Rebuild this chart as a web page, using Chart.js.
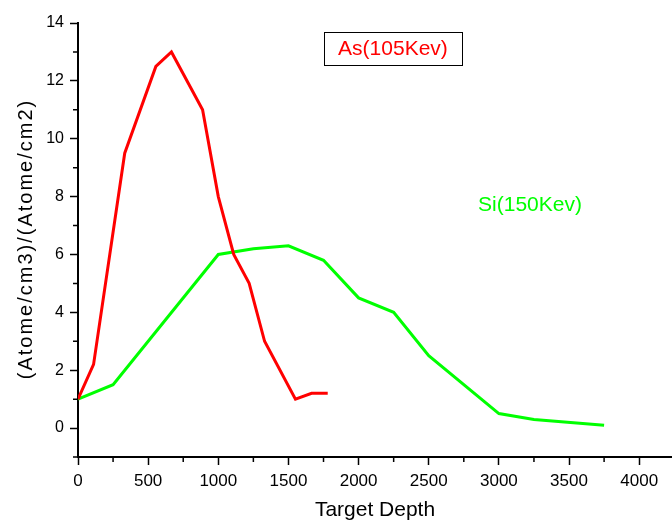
<!DOCTYPE html>
<html>
<head>
<meta charset="utf-8">
<script src="https://cdn.jsdelivr.net/npm/chart.js@4/dist/chart.umd.min.js"></script>
<style>
  html, body { margin: 0; padding: 0; background: #fff; }
  #wrap { width: 672px; height: 523px; }
</style>
</head>
<body>
<div id="wrap"><canvas id="depthChart"></canvas></div>
<script>
// As implant profile (105 KeV)
const asDepth = [0, 111, 333, 555, 666, 888, 1000, 1110, 1220, 1330, 1550, 1665, 1780];
const asConc  = [1.0, 2.2, 9.5, 12.5, 13.0, 11.0, 8.0, 6.0, 5.0, 3.0, 1.0, 1.2, 1.2];

// Si implant profile (150 KeV)
const siDepth = [0, 250, 1000, 1250, 1500, 1750, 2000, 2250, 2500, 3000, 3250, 3750];
const siConc  = [1.0, 1.5, 6.0, 6.2, 6.3, 5.8, 4.5, 4.0, 2.5, 0.5, 0.3, 0.1];

// axis ticks (all tick marks, and the ones that get a label)
const xTicks = [0, 250, 500, 750, 1000, 1250, 1500, 1750, 2000, 2250, 2500, 2750, 3000, 3250, 3500, 3750, 4000];
const xLabels = [0, 500, 1000, 1500, 2000, 2500, 3000, 3500, 4000];
const yTicks = [-1, 0, 1, 2, 3, 4, 5, 6, 7, 8, 9, 10, 11, 12, 13, 14];
const yLabels = [0, 2, 4, 6, 8, 10, 12, 14];

const FONT = 'Liberation Sans, Arial, sans-serif';
const RED = '#ff0000';
const GREEN = '#00ff00';

function toPoints(xs, ys) {
  return xs.map((x, i) => ({ x: x, y: ys[i] }));
}

// short minor tick marks drawn outside the axes
const minorTicks = {
  id: 'minorTicks',
  afterDraw(chart) {
    const ctx = chart.ctx;
    const xs = chart.scales.x;
    const ys = chart.scales.y;
    ctx.save();
    ctx.strokeStyle = '#000';
    ctx.lineWidth = 1.5;
    ctx.beginPath();
    xTicks.forEach(v => {
      if (xLabels.includes(v)) return;
      const px = xs.getPixelForValue(v);
      ctx.moveTo(px, xs.top);
      ctx.lineTo(px, xs.top + 5);
    });
    yTicks.forEach(v => {
      if (yLabels.includes(v)) return;
      const py = ys.getPixelForValue(v);
      ctx.moveTo(ys.right, py);
      ctx.lineTo(ys.right - 5, py);
    });
    ctx.stroke();
    ctx.restore();
  }
};

// series labels inside the plot + y axis title
const textLayer = {
  id: 'textLayer',
  afterDraw(chart) {
    const ctx = chart.ctx;
    const xs = chart.scales.x;
    const ys = chart.scales.y;
    ctx.save();
    ctx.font = '21px ' + FONT;
    ctx.textAlign = 'center';
    ctx.textBaseline = 'middle';

    // As label with box
    let cx = xs.getPixelForValue(2245);
    let cy = ys.getPixelForValue(13.1);
    ctx.fillStyle = RED;
    ctx.fillText('As(105Kev)', cx, cy);
    ctx.strokeStyle = '#000';
    ctx.lineWidth = 1;
    ctx.strokeRect(Math.round(cx - 69) + 0.5, Math.round(cy - 17) + 0.5, 138, 33);

    // Si label
    cx = xs.getPixelForValue(3222);
    cy = ys.getPixelForValue(7.69);
    ctx.fillStyle = GREEN;
    ctx.fillText('Si(150Kev)', cx, cy);

    // y axis title
    ctx.font = '20px ' + FONT;
    ctx.letterSpacing = '2px';
    ctx.fillStyle = '#000';
    ctx.translate(26, 240);
    ctx.rotate(-Math.PI / 2);
    ctx.fillText('(Atome/cm3)/(Atome/cm2)', 1, 0);
    ctx.restore();
  }
};

const canvas = document.getElementById('depthChart');
const chart = new Chart(canvas, {
  type: 'line',
  data: {
    datasets: [
      {
        label: 'As(105Kev)',
        data: toPoints(asDepth, asConc),
        borderColor: RED,
        borderWidth: 3,
        pointRadius: 0,
        tension: 0,
        fill: false
      },
      {
        label: 'Si(150Kev)',
        data: toPoints(siDepth, siConc),
        borderColor: GREEN,
        borderWidth: 3,
        pointRadius: 0,
        tension: 0,
        fill: false
      }
    ]
  },
  options: {
    responsive: true,
    maintainAspectRatio: false,
    animation: false,
    layout: { padding: { top: 23, right: 0, bottom: 0, left: 0 } },
    plugins: {
      legend: { display: false },
      tooltip: { enabled: false }
    },
    scales: {
      x: {
        type: 'linear',
        min: 0,
        max: 4234,
        afterBuildTicks: s => { s.ticks = xTicks.map(v => ({ value: v })); },
        afterFit: s => { s.height = 66; },
        ticks: {
          autoSkip: false,
          maxRotation: 0,
          padding: 6,
          color: '#000',
          font: { family: FONT, size: 17 },
          callback: v => xLabels.includes(v) ? String(v) : ''
        },
        grid: {
          drawOnChartArea: false,
          tickLength: 8,
          tickWidth: 1.5,
          tickColor: c => xLabels.includes(c.tick.value) ? '#000' : 'rgba(0,0,0,0)'
        },
        border: { display: true, color: '#000', width: 2 },
        title: {
          display: true,
          text: 'Target Depth',
          color: '#000',
          font: { family: FONT, size: 21 },
          padding: { top: 0, bottom: 0 }
        }
      },
      y: {
        type: 'linear',
        min: -1,
        max: 14,
        afterBuildTicks: s => { s.ticks = yTicks.map(v => ({ value: v })); },
        afterFit: s => { s.width = 78; },
        ticks: {
          autoSkip: false,
          padding: 6,
          color: '#000',
          font: { family: FONT, size: 16 },
          callback: v => yLabels.includes(v) ? String(v) : ''
        },
        grid: {
          drawOnChartArea: false,
          tickLength: 8,
          tickWidth: 1.5,
          tickColor: c => yLabels.includes(c.tick.value) ? '#000' : 'rgba(0,0,0,0)'
        },
        border: { display: true, color: '#000', width: 2 },
        title: { display: false }
      }
    }
  },
  plugins: [minorTicks, textLayer]
});
</script>
</body>
</html>
